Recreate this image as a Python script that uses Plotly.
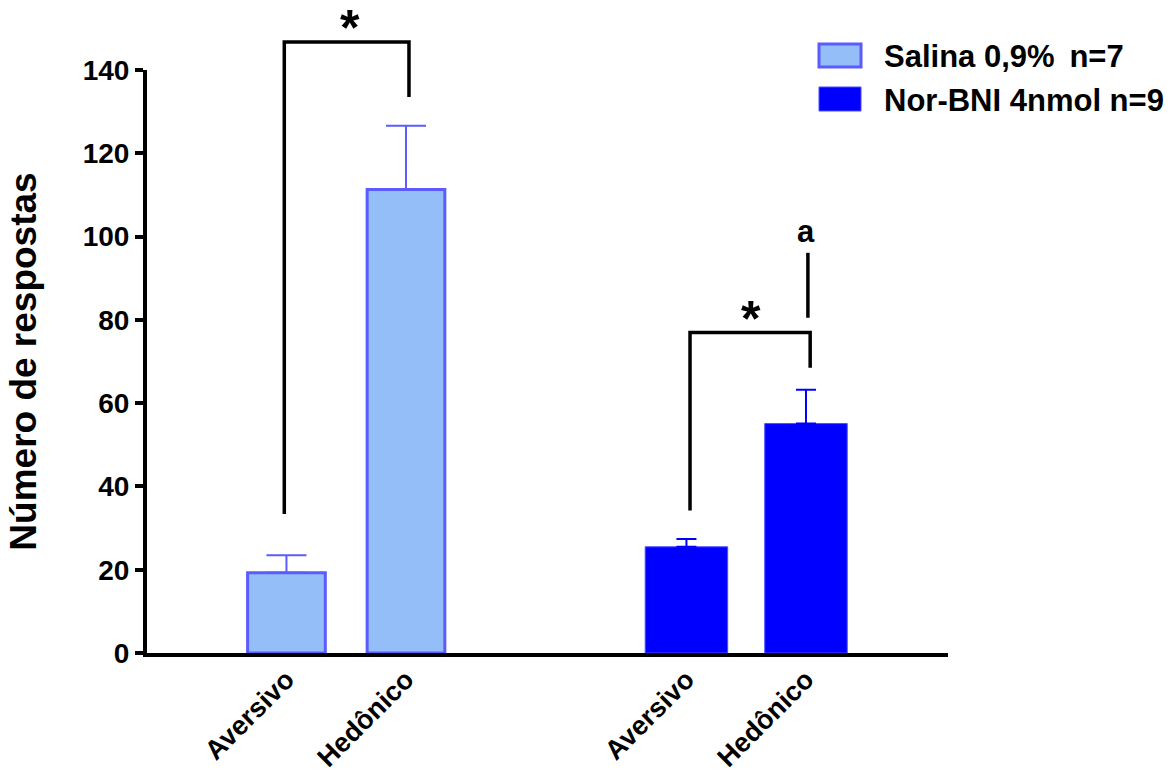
import plotly.graph_objects as go

# ---- data -------------------------------------------------------------
categories = ["Aversivo", "Hedônico"]
salina_mean = [19.3, 111.3]
salina_sem = [4.2, 15.3]
norbni_mean = [25.5, 55.1]
norbni_sem = [1.9, 8.1]
series_names = ["Salina 0,9%\u2009 n=7", "Nor-BNI 4nmol n=9"]
y_ticks = [0, 20, 40, 60, 80, 100, 120, 140]

# ---- layout constants --------------------------------------------------
W, H = 1175, 775
ML, MR, MT, MB = 147, 227, 70, 122
PW, PH = W - ML - MR, H - MT - MB
GROUP_OFFSET = 3.346          # distance between the two treatment groups
X_RANGE = [-1.1665, 5.534]
Y_RANGE = [0, 140]
FONT = "Arial, Liberation Sans, sans-serif"

sal_x = [i for i in range(len(categories))]
nor_x = [i + GROUP_OFFSET for i in range(len(categories))]


def xp(x):
    """data x -> paper x"""
    return (x - X_RANGE[0]) / (X_RANGE[1] - X_RANGE[0])


def yp(y):
    """data y -> paper y"""
    return (y - Y_RANGE[0]) / (Y_RANGE[1] - Y_RANGE[0])


def pxx(p):
    """pixel x -> paper x"""
    return (p - ML) / PW


def pxy(p):
    """pixel y -> paper y"""
    return (H - MB - p) / PH


fig = go.Figure()

fig.add_trace(go.Bar(
    x=sal_x, y=salina_mean, width=0.65, name=series_names[0], showlegend=False,
    marker=dict(color="#93bef7", line=dict(color="#5b5bff", width=3)),
    error_y=dict(type="data", array=salina_sem, arrayminus=[0] * len(salina_sem),
                 symmetric=False, color="#5b5bff", thickness=2, width=20),
))
fig.add_trace(go.Bar(
    x=nor_x, y=norbni_mean, width=0.69, name=series_names[1], showlegend=False,
    marker=dict(color="#0000ff", line=dict(color="#4d4dff", width=1)),
    error_y=dict(type="data", array=norbni_sem, arrayminus=[0] * len(norbni_sem),
                 symmetric=False, color="#0000ff", thickness=2, width=10),
))

shapes = []
annotations = []
line_style = dict(color="black", width=3.5)


def bracket(x0, x1, y_top, y_foot0, y_foot1):
    path = (f"M{xp(x0)},{yp(y_foot0)} L{xp(x0)},{yp(y_top)} "
            f"L{xp(x1)},{yp(y_top)} L{xp(x1)},{yp(y_foot1)}")
    shapes.append(dict(type="path", xref="paper", yref="paper", path=path,
                       line=line_style))


def label(x, y, text, size, **kw):
    annotations.append(dict(x=x, y=y, xref="paper", yref="paper", text=text,
                            showarrow=False, xanchor=kw.pop("xanchor", "center"),
                            font=dict(family=FONT, size=size, color="black",
                                      weight="bold"), **kw))


# significance brackets between Aversivo and Hedônico within each group
bracket(sal_x[0] - 0.018, sal_x[1] + 0.025, 146.7,
        salina_mean[0] + salina_sem[0] + 9.9, salina_mean[1] + salina_sem[1] + 6.9)
bracket(nor_x[0] + 0.03, nor_x[1] + 0.035, 76.95,
        norbni_mean[0] + norbni_sem[0] + 6.8, norbni_mean[1] + norbni_sem[1] + 5.3)

label(xp((sal_x[0] + sal_x[1]) / 2 + 0.03), yp(146.7), "*", 50,
      yanchor="bottom", yshift=-16)
label(xp((nor_x[0] + nor_x[1]) / 2 + 0.04), yp(76.95), "*", 50,
      yanchor="bottom", yshift=-16)

# "a" marker above Nor-BNI Hedônico
shapes.append(dict(type="line", xref="paper", yref="paper",
                   x0=xp(nor_x[1] + 0.016), x1=xp(nor_x[1] + 0.016),
                   y0=yp(80.5), y1=yp(96.1), line=line_style))
label(xp(nor_x[1]), yp(101.2), "a", 31, yanchor="middle")

# legend
legend_rows = [
    (series_names[0], "#93bef7", "#5b5bff", 3, 44, 67, 56),
    (series_names[1], "#0000ff", "#4d4dff", 1, 87, 111, 100.5),
]
for name, fill, edge, lw, top, bot, text_y in legend_rows:
    shapes.append(dict(type="rect", xref="paper", yref="paper",
                       x0=pxx(819), x1=pxx(861), y0=pxy(bot), y1=pxy(top),
                       fillcolor=fill, line=dict(color=edge, width=lw)))
    label(pxx(882), pxy(text_y), name, 31, xanchor="left", yanchor="middle")

fig.update_layout(
    width=W, height=H,
    margin=dict(l=ML, r=MR, t=MT, b=MB, autoexpand=False),
    paper_bgcolor="white", plot_bgcolor="white",
    barmode="overlay",
    shapes=shapes, annotations=annotations,
    showlegend=False,
    xaxis=dict(range=X_RANGE, tickvals=sal_x + nor_x, ticktext=categories * 2,
               tickangle=-45, ticks="", showline=True, linewidth=4,
               linecolor="black", showgrid=False, zeroline=False,
               ticklabelstandoff=-4,
               tickfont=dict(family=FONT, size=27, color="black", weight="bold")),
    yaxis=dict(range=Y_RANGE, tickvals=y_ticks, ticks="outside", ticklen=8,
               tickwidth=4, tickcolor="black", showline=True, linewidth=4,
               linecolor="black", showgrid=False, zeroline=False,
               tickfont=dict(family=FONT, size=28, color="black", weight="bold"),
               title=dict(text="Número de respostas", standoff=36,
                          font=dict(family=FONT, size=37, color="black",
                                    weight="bold"))),
)

fig.write_html("out.html")
